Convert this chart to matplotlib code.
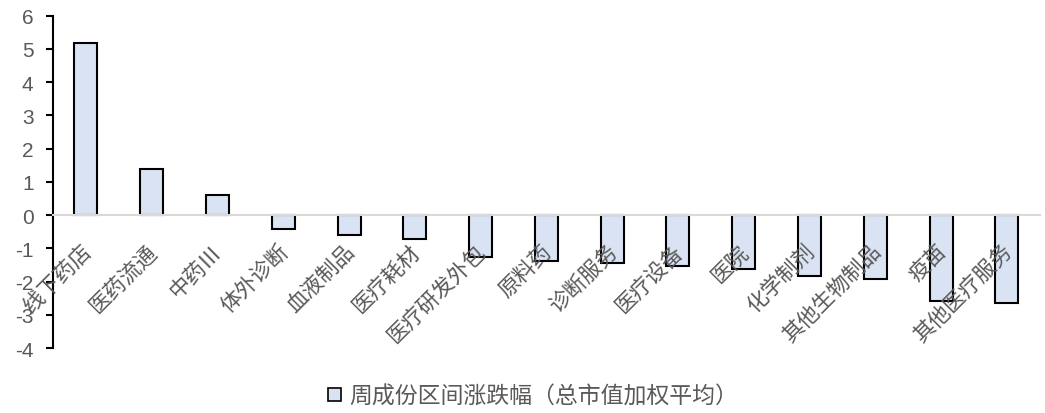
import matplotlib.pyplot as plt
from matplotlib.patches import Patch

plt.rcParams["font.family"] = ["Noto Sans CJK SC", "DejaVu Sans"]

# 申万三级子行业周涨跌幅（%）
categories = [
    "线下药店", "医药流通", "中药Ⅲ", "体外诊断", "血液制品", "医疗耗材",
    "医疗研发外包", "原料药", "诊断服务", "医疗设备", "医院", "化学制剂",
    "其他生物制品", "疫苗", "其他医疗服务",
]
values = [5.18, 1.38, 0.59, -0.43, -0.61, -0.73, -1.27, -1.38, -1.45,
          -1.52, -1.63, -1.82, -1.93, -2.59, -2.66]
yticks = [-4, -3, -2, -1, 0, 1, 2, 3, 4, 5, 6]
legend_label = "周成份区间涨跌幅（总市值加权平均）"

bar_color = "#DAE3F3"
text_gray = "#595959"

fig = plt.figure(figsize=(10.45, 4.14), dpi=100)
ax = fig.add_axes([0.0507, 0.157, 0.9443, 0.8027])

x = range(len(categories))
ax.bar(x, values, width=0.35, color=bar_color, edgecolor="black",
       linewidth=1.5, zorder=3)

ax.set_xlim(-0.5, len(categories) - 0.5)
ax.set_ylim(-4, 6)
ax.set_yticks(yticks)
ax.set_yticklabels([str(t) for t in yticks], family="Liberation Sans",
                   fontsize=15, color=text_gray)
ax.tick_params(axis="y", direction="out", length=5, width=1.5,
               color="black", pad=9)

# zero line acts as category axis, drawn over the bar edges
ax.spines["bottom"].set_position(("data", 0))
ax.spines["bottom"].set_color("#D9D9D9")
ax.spines["bottom"].set_linewidth(1.5)
ax.spines["bottom"].set_zorder(3.5)
ax.spines["left"].set_linewidth(1.5)
ax.spines["top"].set_visible(False)
ax.spines["right"].set_visible(False)
ax.set_xticks([])

for i, label in enumerate(categories):
    ax.text(i + 0.03, -0.97, label, rotation=45, rotation_mode="anchor",
            ha="right", va="center", fontsize=15.5, color=text_gray,
            zorder=4, clip_on=False)

handle = Patch(facecolor=bar_color, edgecolor="black", linewidth=1.2)
fig.legend([handle], [legend_label], loc="center", bbox_to_anchor=(0.51, 0.041),
           frameon=False, fontsize=16.5, labelcolor=text_gray,
           handlelength=0.55, handleheight=0.55, handletextpad=0.35)

fig.savefig("out.png", dpi=100)
